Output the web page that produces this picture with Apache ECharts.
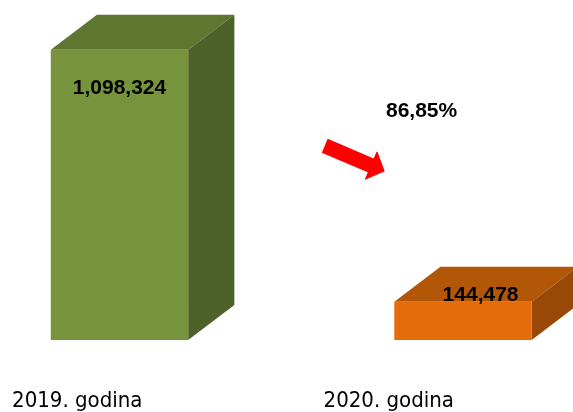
<!DOCTYPE html>
<html>
<head>
<meta charset="utf-8">
<script src="https://cdn.jsdelivr.net/npm/echarts@6/dist/echarts.min.js"></script>
<style>html,body{margin:0;padding:0;background:#fff;}#c{width:573px;height:412px;}</style>
</head>
<body>
<div id="c"></div>
<script>
const categories = ['2019. godina', '2020. godina'];
const values = [1098324, 144478];
const valueLabels = ['1,098,324', '144,478'];
const changeLabel = '86,85%';

const faceColors = [
  { front: '#77933c', top: '#5e7630', side: '#4e6128' },
  { front: '#e46c0a', top: '#b25608', side: '#984807' }
];

const chart = echarts.init(document.getElementById('c'), null, { renderer: 'canvas' });

function renderItem(params, api) {
  const idx = params.dataIndex;
  const base = api.coord([api.value(0), 0]);
  const top = api.coord([api.value(0), api.value(1)]);
  const unitW = api.size([1, 0])[0];
  const frontW = unitW * 0.4;
  const dx = frontW * 0.336;
  const dy = dx * 0.76;
  const x0 = base[0] - (frontW + dx) / 2;
  const x1 = x0 + frontW;
  const yb = base[1];
  const yt = top[1];
  const c = faceColors[idx];
  const tall = (yb - yt) > 100;
  const lx = tall ? (x0 + x1) / 2 : (x0 + x1) / 2 + dx * 0.38;
  const ly = tall ? yt + 38 : yt - 7;
  return {
    type: 'group',
    children: [
      { type: 'polygon', shape: { points: [[x0, yt], [x1, yt], [x1 + dx, yt - dy], [x0 + dx, yt - dy]] }, style: { fill: c.top } },
      { type: 'polygon', shape: { points: [[x1, yt], [x1 + dx, yt - dy], [x1 + dx, yb - dy], [x1, yb]] }, style: { fill: c.side } },
      { type: 'rect', shape: { x: x0, y: yt, width: frontW, height: yb - yt }, style: { fill: c.front } },
      { type: 'text', style: { x: lx, y: ly, text: valueLabels[idx], fill: '#000', font: 'bold 21px "Liberation Sans"', textAlign: 'center', textVerticalAlign: 'middle' } }
    ]
  };
}

const labelFont = '"DejaVu Sans Condensed", "DejaVu Sans", sans-serif';

chart.setOption({
  animation: false,
  grid: { left: 0, right: 0, top: 23, bottom: 72 },
  xAxis: [{
    type: 'category',
    data: categories,
    axisLine: { show: false },
    axisTick: { show: false },
    splitLine: { show: false },
    axisLabel: {
      margin: 50,
      formatter: (v, i) => '{c' + i + '|' + v + '}',
      rich: {
        c0: { fontSize: 22, fontFamily: labelFont, color: '#000', padding: [0, 132, 0, 0] },
        c1: { fontSize: 22, fontFamily: labelFont, color: '#000', padding: [0, 82, 0, 0] }
      }
    }
  }, {
    type: 'value',
    min: -0.415,
    max: 1.253,
    show: false,
    splitLine: { show: false }
  }],
  yAxis: { type: 'value', min: 0, max: 1200000, show: false, splitLine: { show: false } },
  series: [{
    type: 'custom',
    xAxisIndex: 1,
    renderItem: renderItem,
    data: values.map((v, i) => [i, v]),
    encode: { x: 0, y: 1 },
    clip: false
  }],
  graphic: [
    { type: 'polygon', z: 10, shape: { points: [[328.0, 139.6], [374.0, 159.2], [377.0, 152.3], [384, 171], [365.6, 178.9], [368.6, 172.0], [322.6, 152.4]] }, style: { fill: '#ff0000', stroke: '#ff0000', lineWidth: 1.2, lineJoin: 'round' } },
    { type: 'text', z: 10, left: 386, top: 101, style: { text: changeLabel, fill: '#000', font: 'bold 21px "Liberation Sans"' } }
  ]
});
</script>
</body>
</html>
